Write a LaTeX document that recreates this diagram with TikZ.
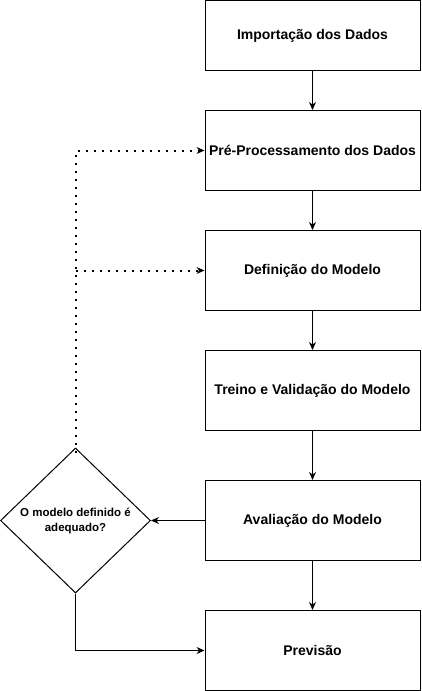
\documentclass[tikz,border=0pt]{standalone}
\usepackage{fontspec}
\setmainfont{Liberation Sans}
\usetikzlibrary{shapes.geometric,arrows.meta}
\begin{document}
\begin{tikzpicture}[x=1pt,y=-1pt,
  stepbox/.style={draw,line width=1pt,minimum width=215pt,minimum height=80pt,inner sep=0pt,font=\fontsize{14}{16}\selectfont\bfseries},
  decision/.style={draw,diamond,aspect=1,line width=1pt,minimum width=150pt,minimum height=145pt,inner sep=0pt,align=center,font=\fontsize{11.5}{15}\selectfont\bfseries},
  flow/.style={line width=1pt,-{Stealth[length=8pt,width=7pt]}},
  loopline/.style={line width=2pt,dash pattern=on 2pt off 6pt,-{Stealth[length=8pt,width=7pt,line width=0pt]}}]
\useasboundingbox (0,0) rectangle (421,691);
\node[stepbox,minimum height=70pt] (b1) at (312.5,35.5) {Importação dos Dados};
\node[stepbox] (b2) at (312.5,150.5) {Pré-Processamento dos Dados};
\node[stepbox] (b3) at (312.5,270.5) {Definição do Modelo};
\node[stepbox] (b4) at (312.5,390.5) {Treino e Validação do Modelo};
\node[stepbox] (b5) at (312.5,520.5) {Avaliação do Modelo};
\node[stepbox] (b6) at (312.5,650.5) {Previsão};
\node[decision] (d) at (75.5,520.5) {O modelo definido é\\adequado?};
\draw[flow] (b1) -- (b2);
\draw[flow] (b2) -- (b3);
\draw[flow] (b3) -- (b4);
\draw[flow] (b4) -- (b5);
\draw[flow] (b5) -- (b6);
\draw[flow] (b5.west) -- (d.east);
\draw[flow] (d.south) |- (b6.west);
\coordinate (top) at ([yshift=-5pt]d.north);
\draw[loopline] (top) |- (b2.west);
\draw[loopline] (top |- b3.west) -- (b3.west);
\end{tikzpicture}
\end{document}
